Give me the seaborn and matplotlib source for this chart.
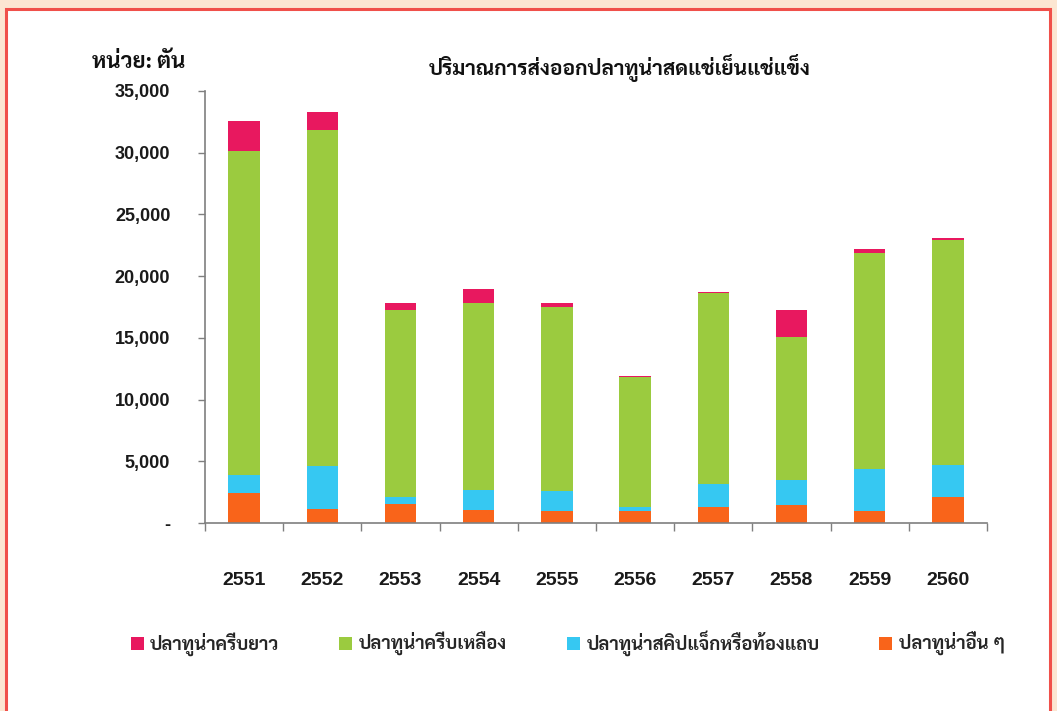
import matplotlib
matplotlib.use("Agg")
import matplotlib.pyplot as plt
from matplotlib.patches import Rectangle, Patch
from matplotlib.ticker import FuncFormatter, FixedLocator
import numpy as np
import pandas as pd
import seaborn as sns

# Export volume of fresh / chilled / frozen tuna (tonnes)
years = ["2551", "2552", "2553", "2554", "2555", "2556", "2557", "2558", "2559", "2560"]
other_tuna = [2400, 1170, 1520, 1080, 970, 970, 1300, 1430, 950, 2100]
skipjack = [1470, 3430, 590, 1620, 1630, 350, 1900, 2030, 3450, 2580]
yellowfin = [26300, 27200, 15150, 15150, 14870, 10500, 15450, 11580, 17450, 18220]
albacore = [2400, 1500, 600, 1080, 380, 100, 80, 2210, 320, 150]

series_names = ["ปลาทูน่าครีบยาว", "ปลาทูน่าครีบเหลือง", "ปลาทูน่าสคิปแจ็กหรือท้องแถบ", "ปลาทูน่าอื่น ๆ"]
series_colors = ["#E8185F", "#9BCB3F", "#36C8F2", "#F9641A"]

title_text = "ปริมาณการส่งออกปลาทูน่าสดแช่เย็นแช่แข็ง"
unit_text = "หน่วย: ตัน"

sns.set_theme(style="white")
thai_fonts = ["Sarabun", "DejaVu Sans"]
plt.rcParams["font.family"] = thai_fonts

df = pd.DataFrame({
    "year": years,
    "other": other_tuna,
    "skipjack": skipjack,
    "yellowfin": yellowfin,
    "albacore": albacore,
})
# cumulative heights, drawn from the top layer down so each bar covers the one below
df["c_other"] = df["other"]
df["c_skip"] = df["c_other"] + df["skipjack"]
df["c_yellow"] = df["c_skip"] + df["yellowfin"]
df["c_alb"] = df["c_yellow"] + df["albacore"]

fig = plt.figure(figsize=(10.57, 7.11), dpi=100)
fig.patch.set_facecolor("#FCE6D2")

# white panel with a red outline
panel = Rectangle((6 / 1057, -0.01), (1050 - 6) / 1057, 1 - 9 / 711 + 0.01,
                  transform=fig.transFigure, facecolor="white",
                  edgecolor="#F0504A", linewidth=2.2, zorder=-5)
fig.patches.append(panel)

ax = fig.add_axes([205 / 1057, 1 - 523 / 711, (987 - 205) / 1057, (523 - 91) / 711])
ax.set_zorder(2)
ax.patch.set_alpha(0)

for col, color in zip(["c_alb", "c_yellow", "c_skip", "c_other"], series_colors):
    sns.barplot(data=df, x="year", y=col, order=years, color=color,
                width=0.4, saturation=1, ax=ax, linewidth=0, errorbar=None)

ax.set_xlim(-0.5, 9.5)
ax.set_ylim(0, 35000)
ax.set_yticks(np.arange(0, 35001, 5000))
ax.yaxis.set_major_formatter(FuncFormatter(lambda v, p: "-" if v == 0 else f"{int(v):,}"))
ax.set_xlabel("")
ax.set_ylabel("")

for s in ["top", "right"]:
    ax.spines[s].set_visible(False)
for s in ["left", "bottom"]:
    ax.spines[s].set_color("#7F7F7F")
    ax.spines[s].set_linewidth(1.2)

ax.tick_params(axis="y", which="major", left=True, length=5, width=1, color="#7F7F7F",
               labelsize=13, pad=20, labelcolor="#1A1A1A")
ax.tick_params(axis="x", which="major", bottom=False, labelsize=14, pad=29, labelcolor="#1A1A1A")
ax.xaxis.set_minor_locator(FixedLocator(np.arange(-0.5, 10, 1.0)))
ax.tick_params(axis="x", which="minor", bottom=True, length=6, width=1, color="#7F7F7F")
for lab in ax.get_yticklabels() + ax.get_xticklabels():
    lab.set_fontweight("bold")
    lab.set_fontfamily(["Liberation Sans", "DejaVu Sans"])

fig.text(620 / 1057, 1 - 68 / 711, title_text, ha="center", va="center",
         fontsize=15, fontweight="bold", color="#111111")
fig.text(92 / 1057, 1 - 63 / 711, unit_text, ha="left", va="center",
         fontsize=16, fontweight="bold", color="#111111")

handles = [Patch(facecolor=c, edgecolor="none") for c in series_colors]
fig.legend(handles, series_names, loc="center left", bbox_to_anchor=(114 / 1057, 1 - 643 / 711),
           ncol=4, frameon=False, handlelength=0.7, handleheight=0.7, handletextpad=0.35,
           columnspacing=3.25, prop={"size": 13.3, "weight": "bold"})

fig.savefig("out.png", dpi=100, facecolor=fig.get_facecolor())
